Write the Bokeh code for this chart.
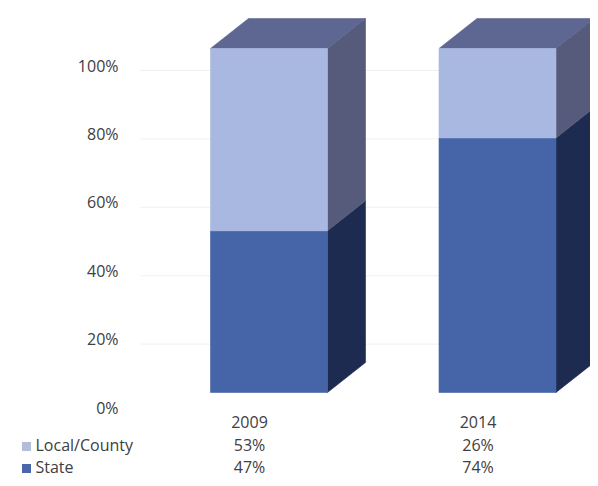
from bokeh.plotting import figure
from bokeh.models import Range1d, ColumnDataSource
from bokeh.core.properties import value
from bokeh.embed import file_html
from bokeh.resources import INLINE

# ---- data ----
categories = ["2009", "2014"]
series = ["Local/County", "State"]
local_share = [0.53, 0.26]
state_share = [0.47, 0.74]
axis_ticks = [0.0, 0.2, 0.4, 0.6, 0.8, 1.0]
axis_labels = ["0%", "20%", "40%", "60%", "80%", "100%"]

# ---- style ----
FONT = "Open Sans"
FS = "16px"
TXT = "#404040"
front_col = {"State": "#4565a8", "Local/County": "#a9b8e1"}
side_col = {"State": "#1d2b51", "Local/County": "#565b7b"}
top_col = "#5e6791"
key_col = {"State": "#4a68a8", "Local/County": "#b3bedb"}

# ---- layout (pixels in the picture) ----
W, H = 590, 478
PX_PER_CAT = 228.5      # horizontal pixels per category step
C1_PX = 268.5           # centre of first bar front face
FRONT0, FRONT1 = 392, 48  # front face 0% and 100%
AX0, AX1 = 407, 65        # axis label 0% and 100%
px_per_unit = FRONT0 - FRONT1
ax_ppu = AX0 - AX1


def xpx(px):
    return 1 + (px - C1_PX) / PX_PER_CAT


def ypx(py):
    return (FRONT0 - py) / px_per_unit


bar_w = 117 / PX_PER_CAT
hw = bar_w / 2
dx = 38 / PX_PER_CAT
dy = 30 / px_per_unit

p = figure(width=W, height=H, output_backend="svg", toolbar_location=None,
           x_range=Range1d(xpx(0), xpx(W)), y_range=Range1d(ypx(H), ypx(0)),
           x_axis_location=None, y_axis_location=None,
           min_border_left=0, min_border_right=0, min_border_top=0,
           min_border_bottom=0)
p.outline_line_color = None
p.xgrid.visible = False
p.ygrid.visible = False

# value axis (labels on the left, faint gridlines on the wall)
tick_y = [ypx(AX0 - ax_ppu * v) for v in axis_ticks]
p.text(x=[xpx(118)] * len(axis_ticks), y=tick_y, text=axis_labels,
       text_font=value(FONT), text_font_size=FS, text_color=TXT,
       text_align="right", text_baseline="middle")
grid_y = [ypx(AX0 - ax_ppu * v + 5) for v in axis_ticks[1:]]
p.segment(x0=[xpx(140)] * len(grid_y), x1=[xpx(W)] * len(grid_y), y0=grid_y,
          y1=grid_y, line_color="#f0f0f0", line_width=1)

# build 3D faces from data
fronts = dict(left=[], right=[], bottom=[], top=[], color=[])
sides = dict(xs=[], ys=[], color=[])
tops = dict(xs=[], ys=[], color=[])
for i, cat in enumerate(categories):
    c = i + 1
    segs = [("State", state_share[i]), ("Local/County", local_share[i])]
    base = 0.0
    for name, v in segs:
        y0, y1 = base, base + v
        fronts["left"].append(c - hw)
        fronts["right"].append(c + hw)
        fronts["bottom"].append(y0)
        fronts["top"].append(y1)
        fronts["color"].append(front_col[name])
        sides["xs"].append([c + hw, c + hw + dx, c + hw + dx, c + hw])
        sides["ys"].append([y0, y0 + dy, y1 + dy, y1])
        sides["color"].append(side_col[name])
        base = y1
    tops["xs"].append([c - hw, c - hw + dx, c + hw + dx, c + hw])
    tops["ys"].append([base, base + dy, base + dy, base])
    tops["color"].append(top_col)

p.patches("xs", "ys", source=ColumnDataSource(sides), fill_color="color",
          line_color="color", line_width=0.6)
p.patches("xs", "ys", source=ColumnDataSource(tops), fill_color="color",
          line_color="color", line_width=0.6)
p.quad(left="left", right="right", bottom="bottom", top="top",
       source=ColumnDataSource(fronts), fill_color="color", line_color="color",
       line_width=0.6)

# ---- data table under the chart ----
row_px = [421, 444, 466]
col_shift = -19.5 / PX_PER_CAT
cat_x = [i + 1 + col_shift for i in range(len(categories))]
p.text(x=cat_x, y=[ypx(row_px[0])] * len(categories), text=categories,
       text_font=value(FONT), text_font_size=FS, text_color=TXT,
       text_align="center", text_baseline="middle")

rows = [("Local/County", local_share), ("State", state_share)]
for r, (name, vals) in enumerate(rows, start=1):
    ry = ypx(row_px[r])
    p.text(x=[xpx(35)], y=[ry], text=[name], text_font=value(FONT),
           text_font_size=FS, text_color=TXT, text_align="left",
           text_baseline="middle")
    p.scatter(x=[xpx(26)], y=[ypx(row_px[r] + 2)], marker="square", size=9,
              fill_color=key_col[name], line_color=None)
    p.text(x=cat_x, y=[ry] * len(vals), text=[f"{round(v * 100)}%" for v in vals],
           text_font=value(FONT), text_font_size=FS, text_color=TXT,
           text_align="center", text_baseline="middle")

open("out.html", "w").write(file_html(p, INLINE))
